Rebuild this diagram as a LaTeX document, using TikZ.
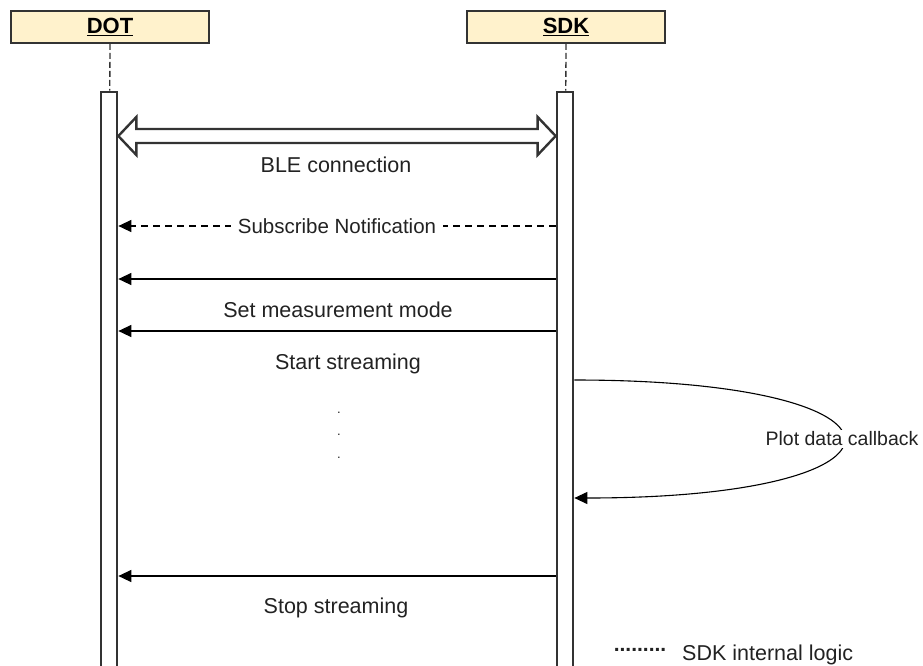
\documentclass[tikz,border=0pt]{standalone}
\usepackage{fontspec}
\setmainfont{Liberation Sans}
\usetikzlibrary{arrows.meta,calc}
\definecolor{headfill}{HTML}{FFF2CC}
\definecolor{inkgray}{HTML}{222222}
\tikzset{
	header/.style={draw=black!80, line width=1.6pt, fill=headfill, minimum width=198pt,
		minimum height=32pt, inner sep=0pt, font=\fontsize{22}{24}\selectfont\bfseries},
	actbar/.style={draw=black!80, line width=2.7pt, fill=white, minimum width=16pt,
		minimum height=576pt, inner sep=0pt},
	lifeline/.style={draw=black!80, line width=1.3pt, dash pattern=on 6pt off 3pt},
	bleArrow/.style={draw=black!80, line width=2.4pt, line join=miter},
	msg/.style={draw=black, line width=1.3pt, -{Triangle[length=13pt,width=12pt]}},
	lbl/.style={text=inkgray, inner sep=1pt, font=\fontsize{21.5}{24}\selectfont}
}
\begin{document}
\begin{tikzpicture}[x=1pt,y=-1pt]
	\useasboundingbox (0,0) rectangle (923,665);
	% heads and bars
	\node[header] (dotHead) at (110,27) {\underline{DOT}};
	\node[header] (sdkHead) at (566,27) {\underline{SDK}};
	\node[actbar] (dotBar) at (109,380) {};
	\node[actbar] (sdkBar) at (565,380) {};
	\draw[lifeline] (dotHead) -- (dotBar);
	\draw[lifeline] (sdkHead) -- (sdkBar);
	% BLE connection
	\coordinate (bleL) at (dotBar.east |- 0,136);
	\coordinate (bleR) at (sdkBar.west |- 0,136);
	\draw[bleArrow] (bleL) -- ++(18,-19) -- ++(0,12) -- ($(bleR)+(-18,-7)$) -- ++(0,-12)
		-- (bleR) -- ++(-18,19) -- ++(0,-12) -- ($(bleL)+(18,7)$) -- ++(0,12) -- cycle;
	\node[lbl] (bleText) at (336,165) {BLE connection};
	% messages
	\draw[msg, dash pattern=on 7pt off 5pt] (sdkBar.west |- 0,226) -- (dotBar.east |- 0,226)
		node[midway, fill=white, lbl, inner xsep=7pt, font=\fontsize{20.5}{24}\selectfont] {Subscribe Notification};
	\draw[msg] (sdkBar.west |- 0,279) -- (dotBar.east |- 0,279);
	\draw[msg] (sdkBar.west |- 0,331) -- (dotBar.east |- 0,331);
	\node[lbl] (setText) at (338,310) {Set measurement mode};
	\node[lbl] (startText) at (348,364) {Start streaming};
	% callback loop
	\coordinate (cbStart) at (sdkBar.east |- 0,380);
	\coordinate (cbEnd) at (sdkBar.east |- 0,498);
	\draw[msg, line width=1.1pt] (cbStart) .. controls (933,380) and (933,498) .. (cbEnd);
	\node[lbl, fill=white, inner sep=2pt, font=\fontsize{19.5}{24}\selectfont] (cbText) at (842,439) {Plot data callback};
	\node[lbl, font=\fontsize{13}{13}\selectfont] (dotA) at (339,413) {.};
	\node[lbl, font=\fontsize{13}{13}\selectfont] (dotB) at (339,435) {.};
	\node[lbl, font=\fontsize{13}{13}\selectfont] (dotC) at (339,458) {.};
	% stop
	\draw[msg] (sdkBar.west |- 0,576) -- (dotBar.east |- 0,576);
	\node[lbl] (stopText) at (336,608) {Stop streaming};
	% legend
	\node[lbl, font=\fontsize{21}{24}\selectfont\bfseries] (legDots) at (640,650) {.........};
	\node[lbl, anchor=west] (legText) at (681,655) {SDK internal logic};
\end{tikzpicture}
\end{document}
